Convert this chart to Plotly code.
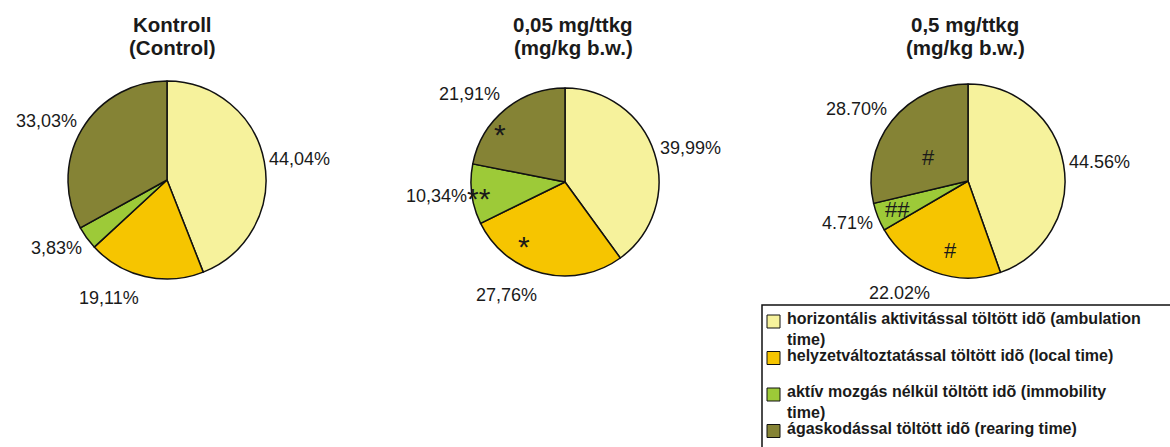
import math
import plotly.graph_objects as go

# ---------------- data ----------------
CATEGORIES = [
    "horizontális aktivitással töltött idõ (ambulation time)",
    "helyzetváltoztatással töltött idõ (local time)",
    "aktív mozgás nélkül töltött idõ (immobility time)",
    "ágaskodással töltött idõ (rearing time)",
]
LEGEND_TEXT = [
    "horizontális aktivitással töltött idõ (ambulation<br>time)",
    "helyzetváltoztatással töltött idõ (local time)",
    "aktív mozgás nélkül töltött idõ (immobility<br>time)",
    "ágaskodással töltött idõ (rearing time)",
]
TITLES = [
    ["Kontroll", "(Control)"],
    ["0,05 mg/ttkg", "(mg/kg b.w.)"],
    ["0,5 mg/ttkg", "(mg/kg b.w.)"],
]
control = [44.04, 19.11, 3.83, 33.03]
dose_005 = [39.99, 27.76, 10.34, 21.91]
dose_05 = [44.56, 22.02, 4.71, 28.70]
DEC_SEP = [",", ",", "."]
# significance marks: (pie index, slice index, mark)
SIG_MARKS = [
    (1, 3, "*"), (1, 1, "*"), (1, 2, "**"),
    (2, 3, "#"), (2, 1, "#"), (2, 2, "##"),
]

# ---------------- style / layout ----------------
W, H = 1170, 447
COLORS = ["#F6F29C", "#F6C500", "#9DCA38", "#858335"]
PIE_GEOM = [(167, 180, 99), (565, 182, 94), (968, 181, 97)]
TITLE_X = [172, 573, 965]
# polar placement of sig marks (angle deg clockwise from top, radius fraction)
SIG_POS = [(309.7, 0.90), (215.3, 0.755), (263.4, 0.92),
           (300.0, 0.475), (193.7, 0.74), (247.8, 0.79)]
FONT = "Liberation Sans, Arial, sans-serif"
TXT = "#1a1a1a"
LABEL_SIZE = 18
LABEL_GAP_V = 12  # extra outward vertical gap for outside labels


def X(px):
    return px / W


def Y(py):
    return 1 - py / H


def text_width(s, size):
    em = {",": 0.278, ".": 0.278, "%": 0.889}
    return size * sum(em.get(c, 0.556) for c in s)


fig = go.Figure()
annotations = []
series = [control, dose_005, dose_05]
for i, vals in enumerate(series):
    cx, cy, r = PIE_GEOM[i]
    texts = [f"{v:.2f}%".replace(".", DEC_SEP[i]) for v in vals]
    fig.add_trace(go.Pie(
        labels=CATEGORIES, values=vals, textinfo="none",
        marker=dict(colors=COLORS, line=dict(color="#111111", width=1.5)),
        sort=False, direction="clockwise", rotation=0,
        domain=dict(x=[X(cx - r), X(cx + r)], y=[Y(cy + r), Y(cy - r)]),
        showlegend=False, hoverinfo="label+percent",
    ))
    # outside percentage labels, placed from the slice mid-angles
    total = sum(vals)
    cum = 0.0
    for v, t in zip(vals, texts):
        mid = 2 * math.pi * (cum + v / 2) / total
        cum += v
        ux, uy = math.sin(mid), -math.cos(mid)
        w = text_width(t, LABEL_SIZE)
        h = LABEL_SIZE * 1.15
        dx = w / 2 * (1 if ux >= 0 else -1)
        dy = h / 2 * (1 if uy >= 0 else -1)
        px = cx + r * ux + dx + abs(dy) * (1 if dx > 0 else -1) / 2
        py = cy + r * uy + dy * uy * uy + LABEL_GAP_V * uy
        annotations.append(dict(
            x=X(px), y=Y(py), xref="paper", yref="paper", text=t, showarrow=False,
            xanchor="center", yanchor="middle",
            font=dict(family=FONT, size=LABEL_SIZE, color=TXT)))

for i, (l1, l2) in enumerate(TITLES):
    for line, ypx in ((l1, 25), (l2, 47)):
        annotations.append(dict(
            x=X(TITLE_X[i]), y=Y(ypx), xref="paper", yref="paper",
            text=f"<b>{line}</b>", showarrow=False, xanchor="center", yanchor="middle",
            font=dict(family=FONT, size=20.5, color=TXT)))

for (pi, si, mark), (ang, rf) in zip(SIG_MARKS, SIG_POS):
    cx, cy, r = PIE_GEOM[pi]
    a = math.radians(ang)
    px = cx + rf * r * math.sin(a)
    py = cy - rf * r * math.cos(a)
    is_star = "*" in mark
    annotations.append(dict(
        x=X(px), y=Y(py + (7 if is_star else 0)), xref="paper", yref="paper",
        text=mark, showarrow=False, xanchor="center", yanchor="middle",
        font=dict(family=FONT, size=30 if is_star else 22, color=TXT)))

# legend (manual box)
shapes = [dict(type="rect", xref="paper", yref="paper",
               x0=X(762), x1=X(1185), y0=Y(305), y1=Y(470),
               line=dict(color="#111111", width=1.5), fillcolor="white", layer="below")]
LEG_TOP = 312
LEG_STEP = 36.5
for k, (lab, col) in enumerate(zip(LEGEND_TEXT, COLORS)):
    top = LEG_TOP + k * LEG_STEP
    shapes.append(dict(type="rect", xref="paper", yref="paper",
                       x0=X(767), x1=X(780), y0=Y(top + 16), y1=Y(top + 3),
                       line=dict(color="#111111", width=1), fillcolor=col))
    annotations.append(dict(
        x=X(785), y=Y(top - 4), xref="paper", yref="paper",
        text=f"<b>{lab}</b>", showarrow=False, xanchor="left", yanchor="top", align="left",
        font=dict(family=FONT, size=16, color=TXT)))

fig.update_layout(
    width=W, height=H, margin=dict(l=0, r=0, t=0, b=0),
    paper_bgcolor="white", plot_bgcolor="white",
    annotations=annotations, shapes=shapes, showlegend=False,
)
fig.write_html("out.html")
